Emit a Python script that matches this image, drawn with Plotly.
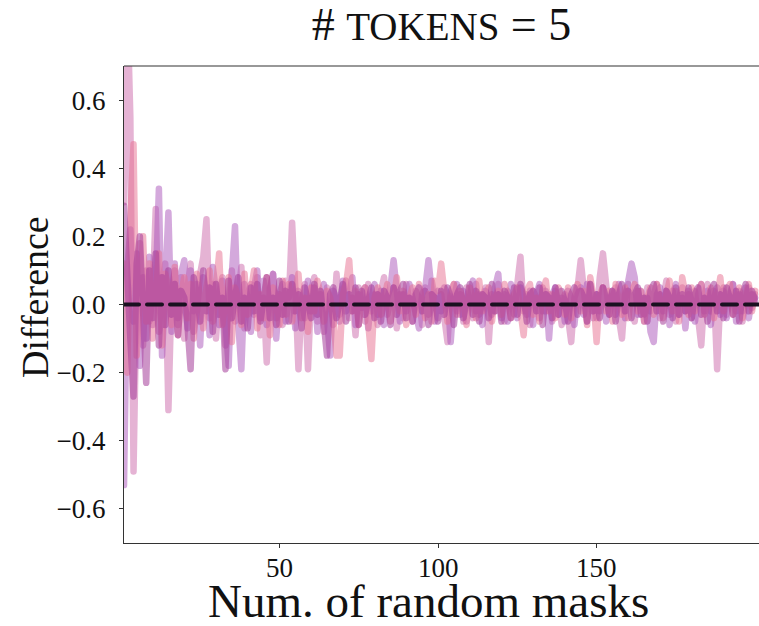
import plotly.graph_objects as go

s1 = [0.30, 0.90, 0.55, -0.49, 0.05, 0.18, -0.12, 0.10, -0.05, 0.02, 0.28, -0.08, 0.06, 0.12, -0.31, 0.04, 0.10, -0.06, 0.08, -0.10,
      0.05, 0.12, -0.08, -0.02, 0.09, 0.14, 0.25, -0.04, 0.06, -0.10, 0.03, 0.08, -0.12, 0.02, 0.10, -0.05, 0.04, 0.11, -0.07, 0.03,
      0.06, -0.03, 0.08, -0.09, 0.02, -0.17, 0.05, 0.09, -0.04, 0.03, -0.06, 0.07, 0.02, 0.24, 0.05, -0.19, 0.01, 0.06, -0.19, 0.04,
      0.08, -0.05, 0.03, -0.08, 0.05, 0.02, -0.06, 0.09, -0.03, 0.04, 0.07, -0.04, 0.02, -0.09, 0.05, 0.01, -0.05, 0.06, -0.02, 0.03,
      -0.06, 0.04, 0.08, -0.03, 0.02, 0.05, -0.07, 0.03, -0.04, 0.06, 0.01, -0.05, 0.04, 0.02, -0.06, 0.05, -0.03, 0.07, 0.02, -0.04,
      0.03, -0.06, -0.11, 0.04, 0.06, -0.02, 0.03, -0.05, 0.05, 0.01, -0.04, 0.06, -0.03, 0.02, 0.05, -0.11, 0.03, -0.02, 0.06, 0.02,
      -0.05, 0.04, 0.01, -0.03, 0.06, 0.14, -0.02, 0.03, -0.06, 0.04, 0.02, -0.04, 0.05, -0.02, 0.03, -0.05, 0.04, 0.01, -0.06, 0.03,
      -0.04, -0.11, 0.02, 0.05, 0.13, 0.03, -0.05, 0.06, 0.02, -0.04, 0.08, 0.15, 0.06, -0.03, 0.02, 0.05, -0.04, -0.10, 0.03, 0.06,
      0.02, -0.05, 0.04, 0.01, -0.03, 0.05, -0.02, 0.03, 0.06, -0.04, 0.02, 0.07, -0.03, 0.04, -0.05, 0.02, 0.05, -0.02, 0.03, -0.04,
      0.04, -0.03, -0.12, 0.03, 0.06, -0.02, 0.04, -0.19, 0.02, 0.05, -0.03, 0.03, 0.06, -0.02, 0.04, -0.05, 0.02, 0.05, -0.01, 0.03]

s2 = [-0.53, 0.10, 0.22, -0.05, 0.15, -0.18, 0.08, -0.10, 0.14, -0.06, 0.05, 0.34, -0.15, 0.02, 0.27, -0.08, 0.12, -0.04, 0.09, 0.13,
      -0.07, 0.10, -0.02, 0.06, -0.12, 0.08, 0.03, -0.09, 0.11, 0.04, -0.06, 0.07, -0.03, -0.18, 0.09, 0.23, -0.05, -0.19, 0.06, 0.02,
      -0.08, 0.05, 0.10, -0.04, 0.07, -0.06, 0.04, 0.09, -0.10, 0.03, 0.06, -0.05, 0.02, 0.08, -0.07, 0.04, 0.01, -0.04, 0.07, -0.02,
      0.05, -0.08, 0.03, 0.06, -0.04, -0.15, 0.04, 0.02, -0.05, 0.07, -0.02, 0.04, 0.08, -0.06, 0.03, -0.01, 0.05, -0.07, 0.02, 0.06,
      -0.03, 0.04, -0.06, 0.02, 0.05, 0.13, 0.04, -0.05, 0.03, -0.02, 0.06, 0.01, -0.04, -0.07, 0.03, 0.05, 0.13, 0.02, -0.05, 0.04,
      -0.02, 0.05, 0.03, -0.11, 0.02, 0.06, -0.03, 0.04, -0.05, 0.02, 0.07, -0.02, 0.03, -0.06, 0.04, 0.01, -0.03, 0.05, 0.09, -0.04,
      0.03, -0.05, 0.06, 0.02, -0.04, 0.05, 0.01, -0.03, 0.04, -0.06, 0.03, 0.06, -0.02, 0.04, -0.10, 0.03, 0.05, -0.03, 0.02, -0.05,
      0.04, 0.02, -0.06, 0.03, 0.05, -0.03, 0.06, 0.01, -0.04, 0.03, -0.02, 0.05, -0.05, 0.02, 0.04, -0.03, 0.06, 0.02, -0.04, 0.07,
      0.12, 0.08, -0.03, 0.04, -0.05, 0.02, -0.08, -0.11, 0.03, 0.05, -0.02, 0.04, -0.06, 0.03, 0.06, -0.03, 0.02, -0.07, 0.04, 0.01,
      -0.05, 0.03, 0.06, -0.02, 0.04, -0.06, 0.02, 0.05, -0.03, 0.04, -0.04, 0.02, 0.06, -0.05, 0.03, -0.02, 0.05, -0.04, 0.03, 0.02]

s3 = [0.12, -0.20, 0.25, 0.47, -0.15, 0.08, 0.20, -0.05, 0.12, -0.10, 0.06, 0.15, -0.12, 0.09, 0.05, -0.06, 0.11, -0.09, 0.03, 0.08,
      -0.04, 0.06, -0.10, 0.09, 0.02, -0.07, 0.05, 0.10, -0.05, 0.04, 0.15, -0.06, 0.03, 0.08, -0.11, 0.05, 0.02, -0.06, 0.09, -0.03,
      0.04, 0.10, -0.07, 0.03, -0.04, 0.08, -0.09, 0.05, 0.02, -0.06, 0.07, -0.03, 0.06, -0.05, 0.03, 0.09, -0.04, 0.02, -0.08, 0.05,
      -0.02, 0.07, 0.03, -0.05, 0.04, 0.02, -0.04, -0.15, -0.15, 0.03, 0.06, 0.13, -0.02, 0.04, -0.06, 0.03, 0.05, -0.08, -0.16, 0.02,
      0.05, -0.03, 0.02, 0.06, -0.05, 0.03, 0.08, -0.02, 0.04, -0.06, 0.02, 0.05, -0.03, 0.06, 0.01, -0.04, 0.03, -0.05, 0.07, 0.04,
      0.12, 0.03, -0.05, 0.02, 0.06, -0.03, 0.04, 0.01, -0.06, 0.05, 0.02, -0.04, 0.07, -0.02, 0.03, 0.05, -0.05, 0.02, 0.04, -0.03,
      0.06, 0.02, -0.04, 0.03, 0.05, -0.02, -0.09, 0.04, 0.06, -0.03, 0.02, -0.05, 0.04, 0.07, -0.02, 0.03, -0.04, 0.05, 0.02, -0.03,
      0.05, -0.04, 0.03, 0.06, -0.02, 0.04, -0.06, 0.08, 0.02, -0.11, 0.03, 0.05, -0.02, 0.04, -0.05, 0.06, 0.02, -0.03, 0.05, -0.04,
      0.03, 0.06, -0.02, 0.04, -0.05, 0.02, 0.05, -0.03, 0.06, 0.02, -0.04, 0.03, 0.07, -0.02, 0.04, -0.05, 0.08, 0.03, -0.03, 0.05,
      -0.02, 0.04, 0.06, -0.03, 0.02, 0.05, -0.04, 0.03, 0.08, -0.02, 0.04, 0.06, -0.03, 0.02, 0.05, -0.04, 0.03, 0.06, -0.02, 0.04]

s4 = [0.29, 0.05, -0.10, -0.27, 0.12, 0.20, -0.08, -0.23, 0.10, -0.04, 0.15, -0.12, 0.08, -0.06, 0.10, -0.03, 0.06, -0.09, 0.04, 0.02,
      -0.06, -0.19, 0.08, 0.03, -0.05, 0.10, -0.02, 0.05, -0.08, 0.06, -0.03, 0.02, -0.19, 0.07, -0.04, 0.03, 0.08, -0.05, 0.02, -0.07,
      0.05, -0.02, 0.06, -0.05, 0.03, 0.08, -0.04, 0.02, -0.06, 0.07, -0.03, 0.04, -0.05, 0.06, -0.02, 0.03, -0.07, 0.05, 0.01, -0.04,
      0.06, -0.03, 0.04, -0.06, -0.15, 0.03, 0.05, -0.04, 0.02, 0.06, -0.05, 0.03, -0.02, 0.05, -0.06, 0.04, -0.03, 0.02, 0.05, -0.04,
      0.03, -0.05, 0.04, 0.02, -0.06, 0.05, -0.03, 0.04, 0.06, -0.04, 0.02, -0.05, 0.03, 0.05, -0.02, 0.04, -0.06, 0.03, 0.02, -0.05,
      0.04, -0.03, 0.05, 0.02, -0.06, 0.03, 0.05, -0.04, 0.02, 0.06, -0.03, 0.04, -0.05, 0.03, 0.02, -0.04, 0.06, -0.02, 0.03, -0.05,
      0.04, 0.02, -0.04, 0.05, -0.03, 0.06, 0.02, -0.05, 0.03, 0.04, -0.02, 0.05, -0.06, 0.03, 0.02, -0.04, 0.05, -0.03, 0.04, 0.01,
      -0.05, 0.03, 0.05, -0.03, 0.04, 0.02, -0.05, 0.06, -0.02, 0.03, -0.04, 0.05, 0.02, -0.03, 0.04, -0.05, 0.03, 0.06, -0.02, 0.04,
      -0.04, 0.03, 0.05, -0.03, 0.02, -0.05, 0.04, 0.06, -0.02, 0.03, -0.05, 0.04, 0.02, -0.04, 0.05, -0.03, 0.03, -0.02, 0.05, -0.04,
      0.03, 0.05, -0.03, 0.02, -0.05, 0.04, 0.06, -0.02, 0.03, -0.04, 0.05, 0.02, -0.03, 0.04, -0.05, 0.03, 0.06, -0.02, 0.04, 0.01]

series = [s1, s2, s3, s4]
colors = ["#cc6aab", "#aa55bb", "#e87090", "#a63d9a"]
opacities = [0.5, 0.5, 0.5, 0.55]

ytick_vals = [-0.6, -0.4, -0.2, 0.0, 0.2, 0.4, 0.6]
ytick_text = ["\u22120.6", "\u22120.4", "\u22120.2", "0.0", "0.2", "0.4", "0.6"]
xtick_vals = [50, 100, 150]
xtick_text = ["50", "100", "150"]

fig = go.Figure()
for s, c, o in zip(series, colors, opacities):
    xs = list(range(1, len(s) + 1))
    fig.add_trace(go.Scatter(x=xs, y=s, mode="lines", line=dict(color=c, width=6.5),
                             opacity=o, showlegend=False, hoverinfo="skip"))

fig.add_trace(go.Scatter(x=[1, 201.5], y=[0, 0], mode="lines",
                         line=dict(color="#1a1020", width=4, dash="15px,8px"),
                         showlegend=False, hoverinfo="skip"))

font_family = "Liberation Serif"
annotations = [
    dict(text="Num. of random masks", xref="paper", yref="paper",
         x=(428 - 124) / 635, y=-(601 - 543) / 477, xanchor="center", yanchor="middle",
         showarrow=False, font=dict(size=47, family=font_family, color="#111111")),
    dict(text="Difference", xref="paper", yref="paper",
         x=-(124 - 35) / 635, y=(543 - 297) / 477, xanchor="center", yanchor="middle",
         textangle=-90, showarrow=False,
         font=dict(size=38, family=font_family, color="#111111")),
]
for v, t in zip(xtick_vals, xtick_text):
    annotations.append(dict(text=t, x=v, xref="x", y=-(568 - 543) / 477, yref="paper",
                            xanchor="center", yanchor="middle", showarrow=False,
                            font=dict(size=27, family=font_family, color="#111111")))

fig.update_layout(
    width=759, height=626,
    margin=dict(l=124, r=0, t=66, b=83),
    paper_bgcolor="white", plot_bgcolor="white",
    font=dict(family=font_family, color="#111111"),
    title=dict(
        text="# <span style='font-size:39px'>TOKENS</span> = 5",
        font=dict(family=font_family, size=46, color="#111111"),
        x=0.5, xref="paper", xanchor="center",
        y=1 - 24 / 626, yref="container", yanchor="middle",
    ),
    xaxis=dict(range=[1, 201.2], tickvals=xtick_vals, showticklabels=False,
               showgrid=False, zeroline=False, showline=True, linecolor="#333333",
               linewidth=1.2, ticks="outside", ticklen=4, tickcolor="#333333"),
    yaxis=dict(range=[-0.7, 0.7], tickvals=ytick_vals, ticktext=ytick_text,
               showgrid=False, zeroline=False, showline=True, linecolor="#333333",
               linewidth=1.2, ticks="outside", ticklen=4, tickcolor="#333333",
               tickfont=dict(size=27, family=font_family, color="#111111"),
               ticklabelstandoff=8),
    shapes=[dict(type="line", xref="paper", yref="paper", x0=0, x1=1, y0=1, y1=1,
                 line=dict(color="#333333", width=1.2))],
    annotations=annotations,
)

post = """
var st = document.createElement('style');
st.innerHTML = '.scatterlayer .js-line { stroke-linejoin: round !important; stroke-linecap: round !important; }';
document.head.appendChild(st);
"""
fig.write_html("out.html", post_script=post)
